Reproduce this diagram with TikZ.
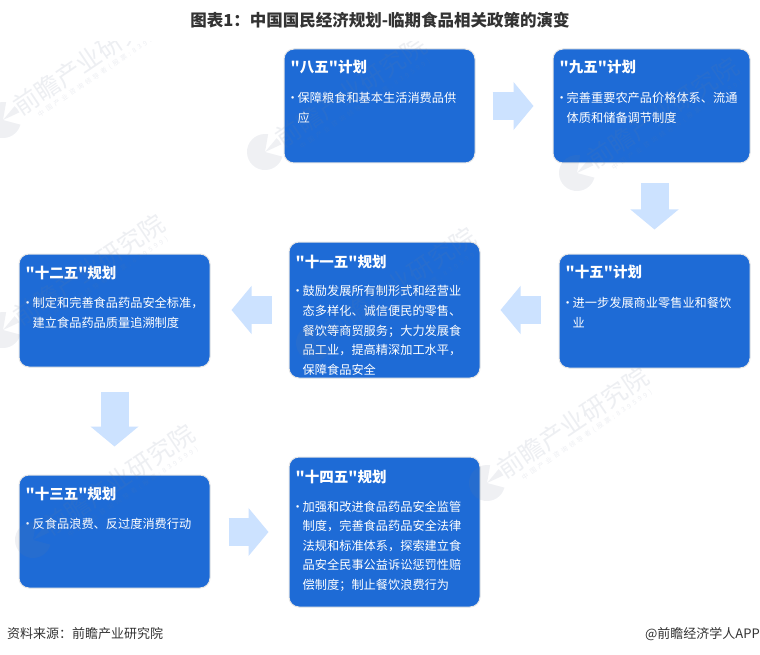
\documentclass[tikz,border=0pt]{standalone}
\usepackage{fontspec}
\setmainfont[Ligatures=TeXOff]{Noto Sans CJK SC}
\newfontfamily\wmsmall[LetterSpace=45]{Noto Sans CJK SC}
\usepackage{xcolor}
\usetikzlibrary{arrows.meta,positioning}
\definecolor{planblue}{HTML}{1E6BD6}
\definecolor{planedge}{HTML}{E6E6E6}
\definecolor{arrowblue}{HTML}{CCE2FF}
\definecolor{wmgray}{HTML}{6F7F9A}
\definecolor{titlegray}{HTML}{333333}
\newcommand{\BodyBullet}{\llap{\textbullet\hspace{-1pt}}}

\begin{document}
\begin{tikzpicture}[% all positions are in pixels of the reference, y going down
			x=1pt,y=-1pt,
			every node/.style={
				inner sep=0pt,
				align=left		% use this so that the "\\" for line break works
			},
			planbox/.style={rectangle,rounded corners=10pt,draw=planedge,line width=1pt,fill=planblue,minimum width=191pt},
			planhead/.style={text=white,font=\fontsize{14.5}{17}\selectfont\bfseries},
			planbody/.style={text=white,font=\fontsize{12.2}{19.6}\selectfont},
			blockarrow/.style={draw=arrowblue,line width=28pt,-{Triangle[length=20pt,width=47pt,fill=arrowblue,color=arrowblue]}},
			wmlogo/.style={fill=wmgray,fill opacity=.11},
			wmtext/.style={text=wmgray,text opacity=.12,rotate=34}
		]
		\useasboundingbox (0,0) rectangle (760,655);
		\fill[white] (0,0) rectangle (760,655);
		\node[text=titlegray,font=\fontsize{16.5}{20}\selectfont\bfseries](Title) at (380,20.5){图表1：中国国民经济规划-临期食品相关政策的演变};
		% plan boxes
		\node[planbox,minimum height=114pt](R1) at (379.5,106){};
		\node[planbox,minimum width=197pt,minimum height=114pt](R2) at (651.5,106){};
		\node[planbox,minimum height=114pt](R3) at (654.5,311){};
		\node[planbox,minimum height=136pt](R4) at (384.5,310){};
		\node[planbox,minimum height=113pt](R5) at (114.5,310.5){};
		\node[planbox,minimum height=113pt](R6) at (114.5,531.5){};
		\node[planbox,minimum height=150pt](R7) at (384.5,532){};
		% box texts
		\node[planhead,anchor=west](R1h) at ([xshift=7pt,yshift=-19pt]R1.north west){"八五"计划};
		\node[planbody,anchor=north west](R1b) at ([xshift=14pt,yshift=-43.5pt]R1.north west){\BodyBullet 保障粮食和基本生活消费品供\\应};
		\node[planhead,anchor=west](R2h) at ([xshift=7pt,yshift=-19pt]R2.north west){"九五"计划};
		\node[planbody,anchor=north west](R2b) at ([xshift=14pt,yshift=-43.5pt]R2.north west){\BodyBullet 完善重要农产品价格体系、流通\\体质和储备调节制度};
		\node[planhead,anchor=west](R3h) at ([xshift=7pt,yshift=-19pt]R3.north west){"十五"计划};
		\node[planbody,anchor=north west](R3b) at ([xshift=14pt,yshift=-43.5pt]R3.north west){\BodyBullet 进一步发展商业零售业和餐饮\\业};
		\node[planhead,anchor=west](R4h) at ([xshift=7pt,yshift=-20pt]R4.north west){"十一五"规划};
		\node[planbody,anchor=north west](R4b) at ([xshift=14pt,yshift=-44pt]R4.north west){\BodyBullet 鼓励发展所有制形式和经营业\\态多样化、诚信便民的零售、\\餐饮等商贸服务；大力发展食\\品工业，提高精深加工水平，\\保障食品安全};
		\node[planhead,anchor=west](R5h) at ([xshift=7pt,yshift=-19pt]R5.north west){"十二五"规划};
		\node[planbody,anchor=north west](R5b) at ([xshift=14pt,yshift=-43.5pt]R5.north west){\BodyBullet 制定和完善食品药品安全标准，\\建立食品药品质量追溯制度};
		\node[planhead,anchor=west](R6h) at ([xshift=7pt,yshift=-19pt]R6.north west){"十三五"规划};
		\node[planbody,anchor=north west](R6b) at ([xshift=14pt,yshift=-43.5pt]R6.north west){\BodyBullet 反食品浪费、反过度消费行动};
		\node[planhead,anchor=west](R7h) at ([xshift=7pt,yshift=-20pt]R7.north west){"十四五"规划};
		\node[planbody,anchor=north west](R7b) at ([xshift=14pt,yshift=-44pt]R7.north west){\BodyBullet 加强和改进食品药品安全监管\\制度，完善食品药品安全法律\\法规和标准体系，探索建立食\\品安全民事公益诉讼惩罚性赔\\偿制度；制止餐饮浪费行为};
		% block arrows
		\path
		(R1)edge [blockarrow,shorten <=17pt,shorten >=19pt] (R2)
		(R2.south -| R3.south)edge [blockarrow,shorten <=20pt,shorten >=24pt] (R3.north)
		(R3.west |- R4.east)edge [blockarrow,shorten <=18pt,shorten >=20pt] (R4.east)
		(R4.west)edge [blockarrow,shorten <=17pt,shorten >=21pt] (R5.east |- R4.west)
		(R5)edge [blockarrow,shorten <=24pt,shorten >=28pt] (R6)
		(R6.east |- R7.west)edge [blockarrow,shorten <=18pt,shorten >=20pt] (R7.west)
		;
		% watermarks, lying over everything below the title
		\begin{scope}
			\clip (0,42) rectangle (760,655);
			\foreach \wx/\wy [count=\wn] in {3/120,265/152,577/173,3/330,314/343,33/540,487/483}{
				\begin{scope}[shift={(\wx,\wy)}]
					\fill[wmlogo] (0,0) -- (80:18pt) arc (80:345:18pt) -- cycle;
					\fill[wmlogo] (0,0) -- (25:18pt) arc (25:50:18pt) -- cycle;
					\node[wmtext,font=\fontsize{25}{25}\selectfont](W\wn) at (86,-60){前瞻产业研究院};
					\node[wmtext,font=\fontsize{6.5}{8}\wmsmall](S\wn) at (100,-48){中国产业咨询领导者(股票:839599)};
				\end{scope}
			}
		\end{scope}
		% source line
		\node[text=titlegray,font=\fontsize{13}{15}\selectfont,anchor=west](Src) at (7,634){资料来源：前瞻产业研究院};
		\node[text=titlegray,font=\fontsize{13}{15}\selectfont,anchor=east](Brand) at (760,634){@前瞻经济学人APP};
	\end{tikzpicture}
\end{document}
